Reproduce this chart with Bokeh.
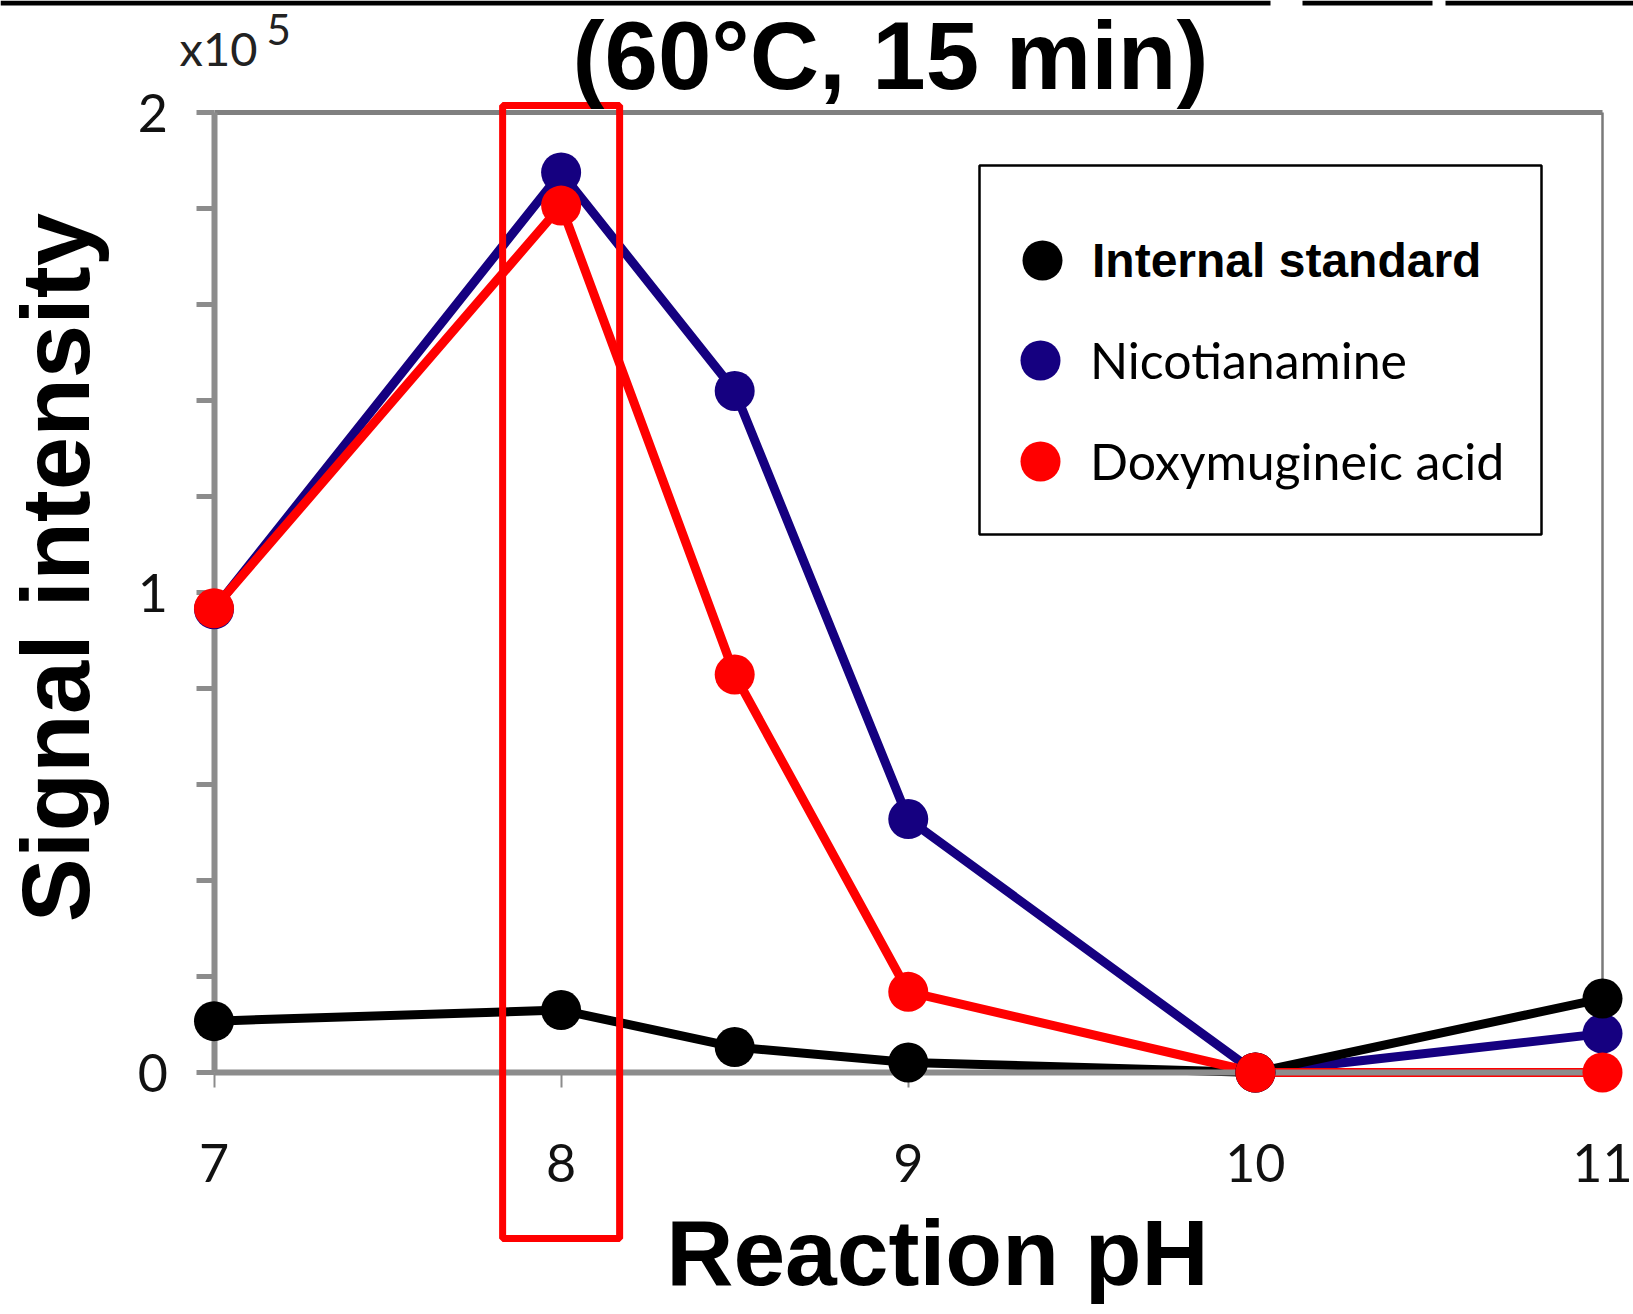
import math
from bokeh.plotting import figure
from bokeh.models import (Range1d, FixedTicker, LinearAxis, Label, Legend,
                          LegendItem, BoxAnnotation)
from bokeh.embed import file_html
from bokeh.resources import INLINE

# ---------------- data ----------------
ph = [7, 8, 8.5, 9, 10, 11]
internal_standard = [0.107, 0.130, 0.053, 0.021, 0.0, 0.154]
nicotianamine = [0.965, 1.875, 1.420, 0.528, 0.0, 0.081]
doxymugineic_acid = [0.967, 1.806, 0.829, 0.168, 0.0, 0.0]
series_names = ["Internal standard", "Nicotianamine", "Doxymugineic acid"]
x_ticks = [7, 8, 9, 10, 11]
y_major_ticks = [0, 1, 2]
y_minor_ticks = [0.2, 0.4, 0.6, 0.8, 1.2, 1.4, 1.6, 1.8]
highlight_ph = 8
title_text = "(60°C, 15 min)"
x_title = "Reaction pH"
y_title = "Signal intensity"
scale_text = "x10"
scale_exp = "5"

# ---------------- layout (pixels) ----------------
W, H = 1633, 1314
X7, X11 = 213.5, 1602.0                         # pixel of pH 7 / 11
Y0, Y2 = 1072.0, 112.0                          # pixel of 0 / 2
pxx = (X11 - X7) / 4.0
pxy = (Y0 - Y2) / 2.0
# the frame is the whole canvas; axes are drawn at fixed data locations
x_range = Range1d(7 - X7 / pxx, 11 + (W - X11) / pxx)
y_range = Range1d(-(H - Y0) / pxy, 2 + Y2 / pxy)

def sx(X):
    return X

def sy(Y):
    return H - Y

GREY = "#8C8C8C"
BLUE = "#150080"
RED = "#FF0000"
BLACK = "#000000"

p = figure(width=W, height=H, x_range=x_range, y_range=y_range,
           output_backend="svg", toolbar_location=None,
           min_border_left=0, min_border_right=0,
           min_border_top=0, min_border_bottom=0)
p.xgrid.visible = False
p.ygrid.visible = False
p.outline_line_color = None
p.background_fill_color = "white"
p.border_fill_color = "white"

# x axis at y = 0
xa = p.xaxis[0]
xa.fixed_location = 0
xa.bounds = (7, 11)
xa.ticker = FixedTicker(ticks=x_ticks)
xa.axis_line_color = GREY
xa.axis_line_width = 6
xa.major_tick_line_color = GREY
xa.major_tick_line_width = 2
xa.major_tick_out = 15
xa.major_tick_in = 0
xa.minor_tick_out = 0
xa.minor_tick_in = 0
xa.major_label_text_font = "Lato"
xa.major_label_text_font_size = "52px"
xa.major_label_text_color = "#111111"
xa.major_label_standoff = 56

# y axis at pH 7
ya = p.yaxis[0]
ya.fixed_location = 7
ya.bounds = (0, 2)
ya.ticker = FixedTicker(ticks=y_major_ticks, minor_ticks=y_minor_ticks)
ya.axis_line_color = GREY
ya.axis_line_width = 6
ya.major_tick_line_color = GREY
ya.major_tick_line_width = 5
ya.major_tick_out = 18
ya.major_tick_in = 0
ya.minor_tick_line_color = GREY
ya.minor_tick_line_width = 5
ya.minor_tick_out = 18
ya.minor_tick_in = 0
ya.major_label_text_font = "Lato"
ya.major_label_text_font_size = "52px"
ya.major_label_text_color = "#111111"
ya.major_label_standoff = 28

# top and right frame lines
top_axis = LinearAxis(fixed_location=2, bounds=(7, 11), ticker=FixedTicker(ticks=[]),
                      axis_line_color="#808080", axis_line_width=5,
                      major_tick_out=0, major_tick_in=0, minor_tick_out=0, minor_tick_in=0,
                      major_label_text_font_size="0px")
p.add_layout(top_axis, "above")
right_axis = LinearAxis(fixed_location=11, bounds=(0, 2), ticker=FixedTicker(ticks=[]),
                        axis_line_color="#7A7A7A", axis_line_width=2.5,
                        major_tick_out=0, major_tick_in=0, minor_tick_out=0, minor_tick_in=0,
                        major_label_text_font_size="0px")
p.add_layout(right_axis, "right")

# ---------------- series ----------------
series = [
    (series_names[1], nicotianamine, BLUE),
    (series_names[0], internal_standard, BLACK),
    (series_names[2], doxymugineic_acid, RED),
]
for name, vals, color in series:
    p.line(ph, vals, line_color=color, line_width=9)
dots = {}
for name, vals, color in series:
    dots[name] = p.scatter(ph, vals, size=40, fill_color=color, line_color=None,
                           level="annotation")

# ---------------- legend ----------------
legend_box = BoxAnnotation(left=sx(979), right=sx(1541), bottom=sy(534), top=sy(165),
                           left_units="screen", right_units="screen",
                           bottom_units="screen", top_units="screen",
                           fill_alpha=0, line_color="black", line_alpha=1, line_width=2.5)
p.add_layout(legend_box)

legend1 = Legend(items=[LegendItem(label=series_names[0], renderers=[dots[series_names[0]]])],
                 location=(sx(992), sy(310)), glyph_width=100, glyph_height=100,
                 label_standoff=0, padding=0, margin=0, spacing=0,
                 border_line_color=None, background_fill_alpha=0,
                 label_text_font="Liberation Sans", label_text_font_style="bold",
                 label_text_font_size="48px", label_text_color="black")
legend2 = Legend(items=[LegendItem(label=series_names[1], renderers=[dots[series_names[1]]]),
                        LegendItem(label=series_names[2], renderers=[dots[series_names[2]]])],
                 location=(sx(990), sy(511)), glyph_width=100, glyph_height=100,
                 label_standoff=0, padding=0, margin=0, spacing=1,
                 border_line_color=None, background_fill_alpha=0,
                 label_text_font="Lato", label_text_font_size="50px",
                 label_text_color="black")
p.add_layout(legend1)
p.add_layout(legend2)

# ---------------- highlight box around pH 8 ----------------
half_w = (619 - 502) / 2.0 / pxx
highlight = BoxAnnotation(left=highlight_ph - half_w, right=highlight_ph + half_w,
                          top=sy(105), bottom=sy(1238),
                          top_units="screen", bottom_units="screen",
                          fill_alpha=0, line_color=RED, line_alpha=1, line_width=7)
p.add_layout(highlight)

# ---------------- texts ----------------
p.add_layout(Label(x=sx(890), y=sy(55), x_units="screen", y_units="screen",
                   text=title_text, text_font="Liberation Sans", text_font_style="bold",
                   text_font_size="96px", text_align="center", text_baseline="alphabetic",
                   text_color="black"))
p.add_layout(Label(x=sx(179), y=sy(47), x_units="screen", y_units="screen",
                   text=scale_text, text_font="Lato", text_font_size="47px",
                   text_align="left", text_baseline="alphabetic", text_color="#222222"))
p.add_layout(Label(x=sx(266), y=sy(29), x_units="screen", y_units="screen",
                   text=scale_exp, text_font="Lato", text_font_size="42px",
                   text_align="left", text_baseline="alphabetic", text_color="#222222"))
p.add_layout(Label(x=sx(55), y=sy(567), x_units="screen", y_units="screen",
                   text=y_title, angle=math.pi / 2, text_font="Liberation Sans",
                   text_font_style="bold", text_font_size="96px", text_align="center",
                   text_baseline="alphabetic", text_color="black"))
p.add_layout(Label(x=sx(937), y=sy(1252), x_units="screen", y_units="screen",
                   text=x_title, text_font="Liberation Sans", text_font_style="bold",
                   text_font_size="93px", text_align="center", text_baseline="alphabetic",
                   text_color="black"))

# cropped black rule at the very top
for a, b in [(0, 1270), (1302, 1432), (1445, W)]:
    p.add_layout(BoxAnnotation(left=sx(a), right=sx(b), top=sy(0), bottom=sy(5),
                               left_units="screen", right_units="screen",
                               top_units="screen", bottom_units="screen",
                               fill_color="black", fill_alpha=1, line_color=None))

open("out.html", "w").write(file_html(p, INLINE))
